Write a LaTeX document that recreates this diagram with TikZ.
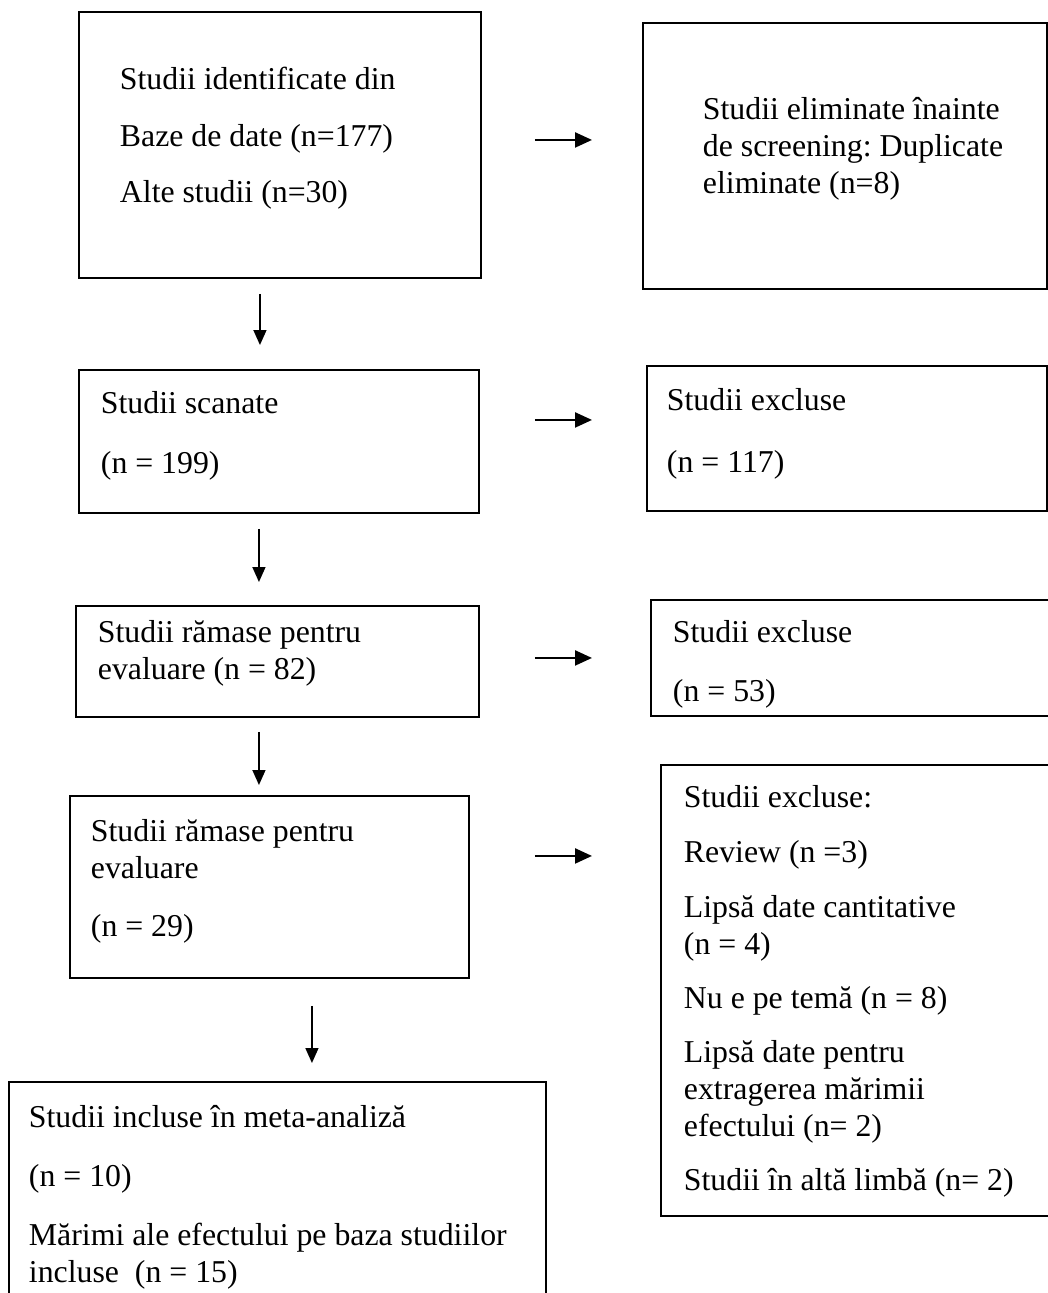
\documentclass[tikz,border=0pt]{standalone}
\usepackage{fontspec}
\setmainfont{Liberation Serif}
\usetikzlibrary{arrows.meta}
\newcommand{\stagetext}[5]{\parbox[c][#2][t]{#1}{\frenchspacing\raggedright\leftskip=#3\relax\rule{0pt}{#4}#5}}

\begin{document}
\begin{tikzpicture}[x=1pt,y=-1pt]
  \tikzset{stage/.style = {draw, line width=1.9pt, anchor=north west, inner sep=0pt, font=\fontsize{31.8}{37}\selectfont}}
  \tikzset{%
  tipA/.tip={Triangle[length=17pt,width=15pt]},
  tipB/.tip={Triangle[length=15pt,width=13pt]},
}
  \tikzset{sidearrow/.style = {-tipA, line width=2.2pt}}
  \tikzset{downarrow/.style = {-tipB, line width=1.5pt}}

  \useasboundingbox (0,0) rectangle (1047,1293);

	\node[stage] (ident) at (78,11) {\stagetext{402pt}{266pt}{41pt}{78pt}{Studii identificate din\\[20pt] Baze de date (n=177)\\[19pt] Alte studii (n=30)}};
	\node[stage] (excl1) at (642,22) {\stagetext{404pt}{266pt}{60pt}{97pt}{Studii eliminate înainte\\ de screening: Duplicate\\ eliminate (n=8)}};

	\node[stage] (scanned) at (78,369) {\stagetext{400pt}{143pt}{22pt}{44pt}{Studii scanate\\[23pt] (n = 199)}};
	\node[stage] (excl2) at (646,365) {\stagetext{400pt}{145pt}{20pt}{45pt}{Studii excluse\\[25pt] (n = 117)}};

	\node[stage] (assess1) at (75,605) {\stagetext{403pt}{111pt}{22pt}{37pt}{Studii rămase pentru\\ evaluare (n = 82)}};
	\node[stage] (excl3) at (650,599) {\stagetext{420pt}{116pt}{22pt}{43pt}{Studii excluse\\[22pt] (n = 53)}};

	\node[stage] (assess2) at (69,795) {\stagetext{399pt}{182pt}{21pt}{46pt}{Studii rămase pentru\\ evaluare\\[21pt] (n = 29)}};
	\node[stage] (excl4) at (660,764) {\stagetext{420pt}{451pt}{23pt}{43pt}{Studii excluse:\\[18pt] Review (n =3)\\[18pt] Lipsă date cantitative\\ (n = 4)\\[17pt] Nu e pe temă (n = 8)\\[17pt] Lipsă date pentru\\ extragerea mărimii\\ efectului (n= 2)\\[17pt] Studii în altă limbă (n= 2)}};

	\node[stage] (included) at (8,1081) {\stagetext{537pt}{260pt}{20pt}{46pt}{Studii incluse în meta-analiză\\[22pt] (n = 10)\\[22pt] Mărimi ale efectului pe baza studiilor\\ incluse\ \ (n = 15)}};

    \foreach \from/\to/\dy/\sa/\sb in {ident/excl1/5/53/50, scanned/excl2/21.5/55/54, assess1/excl3/3.5/55/58, assess2/excl4/31/65/68}
    \draw[sidearrow, shorten <=\sa pt, shorten >=\sb pt] ([yshift=\dy pt]\from.east) -- ([yshift=\dy pt]\from.east -| \to.west);

    \foreach \from/\to/\dx/\sa/\sb in {ident/scanned/-20/15/24, scanned/assess1/-20/15/23, assess1/assess2/-18.5/14/10, assess2/included/42.5/27/18}
    \draw[downarrow, shorten <=\sa pt, shorten >=\sb pt] ([xshift=\dx pt]\from.south) -- ([xshift=\dx pt]\from.south |- \to.north);

\end{tikzpicture}
\end{document}
